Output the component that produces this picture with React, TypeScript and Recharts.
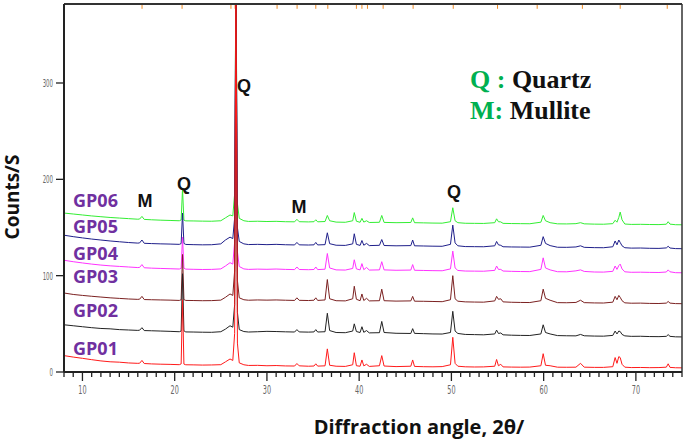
import React from "react";
import {
  LineChart,
  Line,
  XAxis,
  YAxis,
  ReferenceLine,
} from "recharts";

// 2θ sampling positions (degrees)
const TWO_THETA = [
  8, 9, 10, 11, 12, 13, 14, 15, 16, 16.2,
  16.45, 16.7, 17.5, 18.5, 19.5, 20.5, 20.7, 20.85, 21.0, 21.2,
  22, 23, 24, 25, 25.5, 26.0, 26.3, 26.5, 26.64, 26.8,
  27.0, 27.5, 28, 29, 30, 31, 32, 33, 33.25, 33.5,
  34.5, 35.1, 35.3, 35.5, 36.3, 36.55, 36.8, 37.5, 38.5, 39.3,
  39.47, 39.7, 40.1, 40.3, 40.5, 40.8, 41.1, 42.2, 42.45, 42.7,
  44, 45.6, 45.8, 46.0, 47, 48, 49, 49.9, 50.15, 50.4,
  50.7, 51.5, 52.5, 53.5, 54.7, 54.9, 55.1, 55.35, 55.6, 56.5,
  57.5, 58.5, 59.7, 59.95, 60.2, 60.7, 61.5, 62.5, 63.5, 64.0,
  64.4, 65.5, 66.5, 67.5, 67.75, 67.95, 68.15, 68.3, 68.5, 68.8,
  69.5, 70.5, 71.5, 72.5, 73.3, 73.5, 73.7, 74.3, 75,
];

const GP01 = [
  17, 15.5, 14.2, 12.8, 11.5, 10.6, 10.2, 9.4, 9.0, 9.1,
  12.0, 8.8, 8.4, 8.1, 7.9, 7.6, 8.4, 75, 8.2, 7.5,
  7.4, 7.2, 7.3, 7.6, 10.5, 13.5, 12, 40, 420, 30,
  9.5, 7.5, 6.8, 6.9, 6.5, 6.7, 6.3, 6.2, 8.8, 6.4,
  6.0, 6.2, 8.5, 6.1, 6.4, 24, 7.0, 6.0, 5.8, 7.5,
  20, 6.5, 6.0, 12.5, 6.4, 8.0, 5.8, 6.5, 17, 6.2,
  5.6, 6.0, 12.5, 5.8, 5.5, 5.4, 5.6, 7.5, 36, 9.0,
  6.0, 5.4, 5.2, 5.3, 6.0, 13, 6.5, 8.0, 5.3, 5.1,
  5.0, 5.1, 6.5, 19, 7.0, 6.5, 5.0, 4.9, 5.0, 9.0,
  5.0, 4.8, 4.8, 5.5, 15, 9.0, 16, 15, 8.0, 5.0,
  4.6, 4.7, 4.5, 4.6, 5.0, 8.5, 4.8, 4.4, 4.3,
];

const GP02 = [
  49, 48, 47, 46, 45.2, 44.8, 44.0, 43.6, 43.2, 43.4,
  46.0, 43.0, 42.8, 42.5, 42.2, 41.8, 42.5, 102, 42.8, 41.6,
  41.5, 41.3, 41.2, 41.8, 44.5, 48.0, 46.5, 70, 420, 62,
  44.0, 42.0, 41.5, 41.8, 42.2, 42.0, 41.7, 41.5, 44.0, 41.6,
  41.4, 41.6, 44.0, 41.5, 41.8, 61, 43.0, 41.0, 40.8, 42.5,
  50, 42.0, 41.0, 47.0, 41.2, 43.0, 40.6, 40.8, 52.5, 41.0,
  40.2, 40.0, 45.0, 40.1, 39.8, 39.5, 39.4, 41.0, 63, 42.5,
  40.0, 39.0, 38.8, 38.6, 39.5, 43.5, 40.0, 40.5, 38.6, 38.2,
  38.0, 37.9, 39.5, 49, 41.0, 39.5, 37.8, 37.6, 37.5, 39.0,
  37.6, 37.3, 37.2, 38.0, 42.5, 39.5, 42.5, 42.0, 39.0, 37.5,
  37.0, 37.1, 36.8, 36.7, 37.0, 38.8, 37.0, 36.5, 36.4,
];

const GP03 = [
  82, 80.5, 79.5, 78.6, 77.8, 77.0, 76.4, 75.8, 75.4, 75.6,
  78.5, 75.2, 75.0, 74.8, 74.6, 74.3, 75.0, 122, 75.2, 74.3,
  74.2, 74.0, 74.1, 74.6, 77.5, 81.0, 79.5, 105, 420, 95,
  77.0, 75.0, 74.5, 74.8, 74.6, 74.8, 74.5, 74.3, 77.0, 74.4,
  74.2, 74.5, 77.0, 74.3, 74.8, 96, 76.0, 74.0, 73.8, 76.0,
  89, 75.5, 74.0, 81.0, 74.2, 76.5, 73.8, 74.0, 86, 74.0,
  73.6, 73.8, 78.5, 73.5, 73.4, 73.2, 73.0, 75.0, 100, 76.0,
  73.5, 72.8, 72.6, 72.5, 73.8, 78.5, 75.5, 76.0, 72.8, 72.4,
  72.2, 72.1, 74.0, 86, 76.5, 74.5, 72.0, 71.9, 72.2, 74.5,
  72.0, 71.7, 71.6, 72.5, 78.5, 75.0, 79.5, 77.5, 74.0, 71.8,
  71.4, 71.5, 71.2, 71.1, 71.5, 73.2, 71.5, 71.0, 70.9,
];

const GP04 = [
  116, 114.5, 113.2, 112.0, 111.0, 110.2, 109.6, 109.0, 108.4, 108.6,
  111.5, 108.2, 107.8, 107.5, 107.2, 106.9, 107.6, 140, 107.8, 106.8,
  106.6, 106.4, 106.5, 107.0, 110.0, 113.5, 112.0, 135, 420, 125,
  109.5, 107.0, 106.5, 106.8, 106.6, 106.9, 106.5, 106.3, 109.0, 106.4,
  106.2, 106.4, 109.0, 106.3, 106.7, 123, 108.0, 106.0, 105.8, 107.5,
  116.5, 107.0, 106.0, 112.5, 106.2, 108.5, 105.8, 106.0, 114.5, 106.0,
  105.6, 105.8, 111.5, 105.6, 105.4, 105.2, 105.1, 107.0, 125.5, 108.0,
  105.4, 104.8, 104.7, 104.6, 105.5, 110.0, 106.5, 106.5, 104.8, 104.5,
  104.3, 104.2, 106.5, 118.5, 108.0, 106.0, 104.1, 104.0, 105.0, 106.0,
  104.4, 103.8, 103.7, 104.5, 110.0, 106.5, 110.5, 112.0, 107.0, 104.0,
  103.5, 103.6, 103.4, 103.3, 103.8, 106.0, 104.0, 103.1, 103.0,
];

const GP05 = [
  142, 140.5, 139.2, 138.0, 137.0, 136.0, 135.2, 134.4, 133.8, 134.0,
  137.0, 133.6, 133.3, 133.0, 132.8, 132.5, 133.3, 165, 133.5, 132.4,
  132.2, 132.0, 132.1, 133.0, 137.0, 140.0, 138.5, 160, 420, 150,
  135.5, 133.0, 132.3, 132.5, 132.2, 132.5, 132.1, 131.9, 134.5, 132.0,
  131.8, 132.0, 134.5, 131.9, 132.2, 144.5, 133.2, 131.6, 131.4, 133.0,
  143.5, 132.5, 131.4, 136.5, 131.6, 133.5, 131.2, 131.5, 137.5, 131.3,
  131.0, 131.2, 137.0, 131.0, 130.8, 130.6, 130.5, 132.5, 152.5, 134.0,
  131.0, 130.2, 130.1, 130.0, 131.0, 135.5, 132.0, 131.5, 130.0, 129.8,
  129.7, 129.6, 131.5, 140.5, 133.5, 131.2, 129.5, 129.4, 129.8, 131.0,
  129.4, 129.1, 129.0, 130.0, 136.0, 132.0, 137.0, 134.5, 131.0, 129.0,
  128.6, 128.7, 128.4, 128.3, 128.8, 130.5, 128.7, 128.1, 128.0,
];

const GP06 = [
  165, 164.0, 163.0, 162.0, 161.2, 160.4, 159.8, 159.2, 158.6, 158.8,
  161.5, 158.4, 158.0, 157.6, 157.3, 157.0, 157.8, 190, 157.6, 156.9,
  156.8, 156.6, 156.5, 157.0, 160.0, 163.0, 162.0, 185, 420, 175,
  159.5, 157.0, 156.3, 156.5, 156.2, 156.4, 156.0, 155.9, 158.5, 156.0,
  155.8, 156.0, 158.0, 155.9, 156.2, 162.5, 157.0, 155.6, 155.4, 157.0,
  165.5, 156.5, 155.4, 159.5, 155.6, 157.0, 155.2, 155.4, 162.5, 155.3,
  155.0, 155.2, 160.0, 155.0, 154.8, 154.6, 154.5, 156.0, 170.5, 157.0,
  155.0, 154.4, 154.3, 154.2, 155.0, 159.0, 156.0, 155.8, 154.3, 154.1,
  154.0, 153.9, 155.5, 162.5, 157.0, 155.0, 153.8, 153.7, 154.0, 155.0,
  153.8, 153.5, 153.4, 154.0, 157.5, 155.5, 160.5, 166.0, 158.0, 153.6,
  153.2, 153.3, 153.1, 153.0, 153.4, 156.0, 153.5, 152.9, 152.8,
];

// reference pattern markers along the top frame
const MARKER_ANGLES = [
  16.46, 20.8, 26.1, 26.55, 31.1, 33.27, 35.3, 36.6, 39.7, 40.3,
  40.9, 42.6, 45.85, 50.2, 55.0, 59.3, 64.2, 68.3, 73.4,
];

const X_TICKS = [
  8, 9, 10, 11, 12, 13, 14, 15, 16, 17, 18, 19, 20, 21, 22, 23, 24, 25, 26,
  27, 28, 29, 30, 31, 32, 33, 34, 35, 36, 37, 38, 39, 40, 41, 42, 43, 44, 45,
  46, 47, 48, 49, 50, 51, 52, 53, 54, 55, 56, 57, 58, 59, 60, 61, 62, 63, 64,
  65, 66, 67, 68, 69, 70, 71, 72, 73, 74, 75,
];
const Y_TICKS = [0, 100, 200, 300];
const X_MAX = 75;
const Y_MAX = 382;

const SERIES = [
  { key: "gp06", name: "GP06", values: GP06, color: "#33ee33" },
  { key: "gp05", name: "GP05", values: GP05, color: "#1f1f8a" },
  { key: "gp04", name: "GP04", values: GP04, color: "#ff33ff" },
  { key: "gp03", name: "GP03", values: GP03, color: "#7b2121" },
  { key: "gp02", name: "GP02", values: GP02, color: "#222222" },
  { key: "gp01", name: "GP01", values: GP01, color: "#ff1a1a" },
];

const rows = TWO_THETA.map((t, i) => {
  const row: Record<string, number> = { t };
  SERIES.forEach((s) => {
    row[s.key] = s.values[i];
  });
  return row;
});

const tickFont = "'DejaVu Sans Condensed', 'DejaVu Sans', sans-serif";

function XTick(props: any) {
  const { x, y, payload } = props;
  const major = payload.value % 10 === 0;
  return (
    <g>
      <line x1={x} x2={x} y1={y} y2={y + (major ? 9 : 5)} stroke="#222" strokeWidth={1.3} />
      {major && (
        <text
          transform={`translate(${x},${y + 22}) scale(0.6,1)`}
          textAnchor="middle"
          fontSize={12}
          fontFamily={tickFont}
          fill="#666"
        >
          {payload.value}
        </text>
      )}
    </g>
  );
}

function YTick(props: any) {
  const { x, y, payload } = props;
  return (
    <g>
      <line x1={x - 8} x2={x} y1={y} y2={y} stroke="#222" strokeWidth={1.3} />
      <text
        transform={`translate(${x - 11},${y + 4}) scale(0.55,1)`}
        textAnchor="end"
        fontSize={11}
        fontFamily={tickFont}
        fill="#666"
      >
        {payload.value}
      </text>
    </g>
  );
}

const LABELS = [
  { text: "GP06", y: 207 },
  { text: "GP05", y: 233 },
  { text: "GP04", y: 260 },
  { text: "GP03", y: 283 },
  { text: "GP02", y: 317 },
  { text: "GP01", y: 355 },
];

const PEAK_TAGS = [
  { text: "M", x: 145, y: 207 },
  { text: "Q", x: 184, y: 190 },
  { text: "Q", x: 244, y: 92 },
  { text: "M", x: 299, y: 213 },
  { text: "Q", x: 454, y: 198 },
];

export default function App() {
  return (
    <div style={{ position: "absolute", left: 0, top: 0, width: 685, height: 441, background: "#fff" }}>
      <LineChart
        width={685}
        height={441}
        data={rows}
        margin={{ top: 4, right: 3, left: 0, bottom: 0 }}
      >
        <XAxis
          dataKey="t"
          type="number"
          domain={[8, X_MAX]}
          ticks={X_TICKS}
          interval={0}
          allowDataOverflow
          height={69}
          tickSize={0}
          tickMargin={0}
          tickLine={false}
          tick={<XTick />}
          axisLine={{ stroke: "#222", strokeWidth: 2 }}
        />
        <YAxis
          type="number"
          domain={[0, Y_MAX]}
          ticks={Y_TICKS}
          allowDataOverflow
          width={64}
          tickSize={0}
          tickMargin={0}
          tickLine={false}
          tick={<YTick />}
          axisLine={{ stroke: "#222", strokeWidth: 2 }}
        />
        {MARKER_ANGLES.map((a) => (
          <ReferenceLine
            key={a}
            segment={[{ x: a, y: Y_MAX }, { x: a, y: Y_MAX - 5 }]}
            stroke="#f08a24"
            strokeWidth={1}
          />
        ))}
        {SERIES.map((s) => (
          <Line
            key={s.key}
            dataKey={s.key}
            type="linear"
            stroke={s.color}
            strokeWidth={1}
            dot={false}
            isAnimationActive={false}
          />
        ))}
        <ReferenceLine y={Y_MAX} stroke="#333" strokeWidth={2} />
        <ReferenceLine x={X_MAX} stroke="#333" strokeWidth={1.5} />
      </LineChart>
      <svg
        width={685}
        height={441}
        style={{ position: "absolute", left: 0, top: 0, pointerEvents: "none" }}
      >
        {LABELS.map((l) => (
          <text
            key={l.text}
            x={73}
            y={l.y}
            fontSize={18}
            fontWeight="bold"
            fontFamily="'Open Sans', sans-serif"
            fill="#7030a0"
          >
            {l.text}
          </text>
        ))}
        {PEAK_TAGS.map((p, i) => (
          <text
            key={i}
            x={p.x}
            y={p.y}
            textAnchor="middle"
            fontSize={18}
            fontWeight="bold"
            fontFamily="'Liberation Sans', Arial, sans-serif"
            fill="#111"
          >
            {p.text}
          </text>
        ))}
        <text x={470} y={88} fontSize={26} fontWeight="bold" fontFamily="'Liberation Serif', serif">
          <tspan fill="#00b050">Q : </tspan>
          <tspan fill="#111">Quartz</tspan>
        </text>
        <text x={470} y={119} fontSize={26} fontWeight="bold" fontFamily="'Liberation Serif', serif">
          <tspan fill="#00b050">M: </tspan>
          <tspan fill="#111">Mullite</tspan>
        </text>
        <text
          x={419}
          y={434}
          textAnchor="middle"
          fontSize={20}
          fontWeight="bold"
          fontFamily="'Open Sans', sans-serif"
          fill="#111"
        >
          Diffraction angle, 2θ/
        </text>
        <text
          transform="translate(19,197) rotate(-90)"
          textAnchor="middle"
          fontSize={19}
          fontWeight="bold"
          fontFamily="'Open Sans', sans-serif"
          fill="#111"
        >
          Counts/S
        </text>
      </svg>
    </div>
  );
}
